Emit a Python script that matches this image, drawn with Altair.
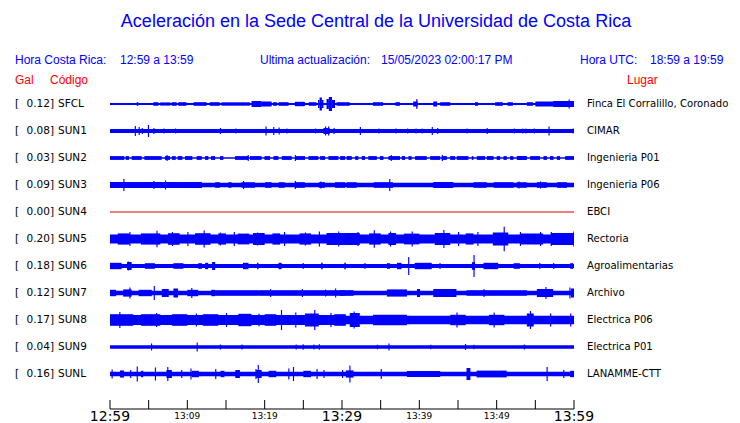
import altair as alt
import pandas as pd

# ---------------- data ----------------
codes = ["SFCL", "SUN1", "SUN2", "SUN3", "SUN4", "SUN5", "SUN6", "SUN7", "SUN8", "SUN9", "SUNL"]
gal = ["0.12", "0.08", "0.03", "0.09", "0.00", "0.20", "0.18", "0.12", "0.17", "0.04", "0.16"]
places = ["Finca El Corralillo, Coronado", "CIMAR", "Ingenieria P01", "Ingenieria P06", "EBCI",
          "Rectoria", "Agroalimentarias", "Archivo", "Electrica P06", "Electrica P01", "LANAMME-CTT"]

# background half-amplitude of each trace (arbitrary units)
base_amp = [1.0, 2.0, 0.8, 2.2, 0.5, 4.5, 2.0, 2.2, 4.2, 1.7, 2.2]

# bursts: (start minute, end minute, half amplitude) -- minutes after 12:59
bursts = {
    "SFCL": [(3.45, 3.66, 1.8), (5.6, 6.25, 1.8), (6.5, 7.8, 1.6), (7.98, 8.62, 1.8), (8.84, 9.9, 1.8),
             (10.8, 12.5, 1.8), (12.9, 14.2, 1.8), (14.4, 18.1, 1.7), (18.3, 19.6, 3), (19.6, 20.9, 2.6),
             (21.1, 21.6, 1.8), (21.8, 23.1, 1.8), (23.9, 25.2, 2.2), (25.7, 26.7, 1.8),
             (26.9, 27.1, 4), (27.1, 27.4, 6.5), (27.4, 27.6, 4), (28.0, 28.3, 5), (28.3, 28.7, 7),
             (28.7, 29.1, 4), (29.3, 30.4, 1.8), (30.4, 31.0, 1.8), (34.0, 35.3, 1.8), (36.9, 37.5, 1.8),
             (39.2, 39.8, 2.5), (41.8, 42.3, 2.5), (42.7, 44.0, 1.8), (47.2, 47.6, 1.8), (49.8, 50.8, 1.8),
             (51.4, 52.1, 1.8), (53.9, 54.7, 1.8), (55.0, 57.3, 2.5), (57.3, 60.0, 3.0)],
    "SUN1": [(27.6, 28.4, 3)],
    "SUN2": [(0, 1.85, 1.9), (2.03, 2.46, 1.9), (2.8, 4.1, 1.9), (4.44, 6.68, 1.9), (7.1, 7.76, 1.9),
             (8.0, 8.5, 1.9), (8.75, 9.36, 1.9), (9.7, 10.65, 1.9), (11.2, 11.86, 1.9), (12.29, 12.72, 1.9),
             (13.06, 13.58, 1.9), (14.23, 14.66, 1.9), (16.17, 17.9, 1.9), (18.1, 19.6, 1.9),
             (19.97, 20.7, 1.9), (21.13, 21.78, 1.9), (22.2, 23.5, 1.9), (23.93, 25.22, 1.9),
             (25.66, 26.95, 1.9), (27.17, 27.8, 1.9), (28.24, 29.54, 1.9), (29.75, 30.4, 1.9),
             (30.6, 31.26, 1.9), (31.7, 32.12, 1.9), (32.55, 32.98, 1.9), (33.4, 34.5, 1.9),
             (34.9, 35.36, 1.9), (36.0, 37.5, 1.9), (37.73, 38.16, 1.9), (38.6, 39.0, 1.9),
             (39.45, 40.96, 1.9), (41.4, 42.7, 1.9), (42.9, 43.55, 1.9), (43.98, 44.63, 1.9),
             (44.84, 46.35, 1.9), (46.78, 47.0, 1.9), (47.43, 48.5, 1.9), (48.72, 49.6, 1.9),
             (50.0, 50.45, 1.9), (50.88, 51.31, 1.9), (51.74, 52.17, 1.9), (52.6, 53.9, 1.9),
             (54.33, 55.6, 1.9), (56.05, 56.5, 1.9), (56.9, 57.35, 1.9), (57.78, 58.2, 1.9),
             (58.86, 60.0, 1.9)],
    "SUN3": [(0, 11.9, 2.9), (13.6, 14.2, 2.8), (15.3, 15.7, 2.8), (17.0, 18.75, 2.8), (20.05, 20.9, 2.8),
             (21.8, 22.6, 2.8), (23.9, 25.2, 2.8), (27.0, 27.8, 2.8), (29.1, 30.4, 2.8), (30.6, 31.9, 2.8),
             (34.1, 36.6, 2.8), (41.8, 44.4, 3.0), (47.0, 48.7, 2.8), (49.6, 52.2, 2.8), (52.6, 53.9, 2.8),
             (55.2, 56.5, 2.8), (57.8, 59.1, 2.8)],
    "SUN4": [],
    "SUN5": [(1.0, 2.5, 5.6), (4.0, 6.5, 5.6), (7.5, 9.0, 5.8), (11.0, 13.0, 5.8), (14.0, 15.0, 5.6),
             (16.5, 18.0, 5.4), (18.5, 20.0, 6), (21.0, 22.0, 5.6), (24.5, 26.0, 5.6), (28.0, 30.5, 6),
             (30.5, 32.3, 6), (33.5, 35.0, 5.6), (36.0, 37.0, 6), (38.0, 40.0, 5.4), (42.0, 44.0, 6),
             (46.0, 47.0, 5.6), (49.5, 51.5, 6.5), (53.0, 56.0, 5.6), (57.0, 60.0, 6)],
    "SUN6": [(0, 1.5, 3.2), (2.2, 2.8, 4), (4.5, 5.8, 2.8), (8.2, 9.5, 2.8), (11.4, 11.9, 2.8), (12.3, 12.7, 3.2),
             (13.2, 13.6, 4), (17.2, 17.9, 3.2), (19.0, 19.2, 3.2), (21.8, 22.2, 3.2), (27.3, 27.5, 3.2),
             (30.3, 30.5, 3.2), (35.8, 36.2, 2.8), (37.1, 37.7, 3.2), (39.4, 41.6, 3.2), (46.8, 47.2, 3.8),
             (48.3, 50.2, 3.2), (52.2, 53.0, 2.8), (59.5, 59.9, 2.8)],
    "SUN7": [(0, 0.8, 3.2), (1.7, 2.8, 3.6), (3.7, 5.4, 3.2), (6.7, 7.6, 4), (8.2, 8.8, 4.5), (10.0, 11.4, 3.2),
             (13.1, 13.6, 3.2), (13.6, 19.2, 2.8), (19.2, 30.4, 2.8), (29.75, 31.5, 2.8), (35.8, 38.4, 3.6),
             (39.7, 40.1, 4), (41.8, 44.8, 4), (46.1, 53.9, 2.8), (55.2, 57.3, 4), (59.6, 60.0, 4.5)],
    "SUN8": [(0, 30.0, 5.0), (0, 3.0, 5.8), (4.0, 6.5, 5.8), (8.0, 10.0, 5.8), (12.0, 14.0, 5.8), (16.6, 18.3, 6.2),
             (20.0, 21.5, 5.8), (25.2, 27.0, 6.5), (29.0, 30.5, 5.8), (31.0, 32.3, 7), (34.0, 38.4, 5.2),
             (44.0, 46.0, 5.2), (49.0, 51.0, 5.2), (53.9, 54.8, 6.5)],
    "SUN9": [],
    "SUNL": [(1.3, 1.8, 3.6), (4.0, 4.3, 3.2), (7.3, 8.0, 4), (10.6, 11.5, 3.2), (14.3, 14.8, 3.2),
             (16.2, 16.8, 4), (18.9, 19.6, 4), (20.5, 21.5, 3.2), (25.0, 26.0, 3.2), (30.5, 31.5, 3.6),
             (38.4, 42.7, 3.0), (46.1, 46.6, 6), (47.4, 51.3, 3.4), (59.5, 60.0, 3.2)],
}

# spikes: (minute, half amplitude)
spikes = {
    "SFCL": [(39.6, 5), (59.3, 4.5)],
    "SUN1": [(3.2, 5), (3.7, 4), (4.1, 3), (4.9, 6), (5.6, 3), (6.9, 2.5), (8.4, 2.5), (14.2, 3), (16.2, 2.5),
             (20.1, 4.5), (21.1, 4), (21.8, 3.5), (22.8, 2.5), (26.5, 2.5), (27.8, 4.5), (28.2, 4.5),
             (28.9, 3), (32.3, 4), (34.7, 2.5), (36.9, 2.5), (38.4, 2.5), (39.5, 2.5), (40.3, 2.5),
             (41.6, 4), (42.3, 3), (46.1, 2.5), (48.7, 3), (52.2, 2.5), (53.3, 2.5), (53.7, 2.5),
             (54.8, 2.5), (56.7, 4.5), (59.8, 2.5)],
    "SUN2": [(7.3, 3), (17.8, 3), (23.9, 3), (36.3, 3), (42.9, 3)],
    "SUN3": [(1.72, 6), (5.6, 4), (7.1, 4.5), (17.2, 4), (23.9, 4), (27.2, 3.5), (36.1, 6), (52.8, 3.5),
             (55.6, 3.5)],
    "SUN4": [],
    "SUN5": [(2.5, 7), (6.0, 8.3), (8.0, 7), (10.0, 7), (12.1, 8.5), (14.2, 6.5), (16.0, 7), (19.0, 6.5),
             (22.5, 7), (25.2, 6.5), (27.0, 7.5), (29.5, 7.5), (32.0, 7), (34.1, 8.7), (36.2, 7.5),
             (39.0, 7.5), (43.1, 9), (45.0, 7), (47.5, 7), (50.9, 12.3), (53.0, 7), (55.6, 7), (57.0, 7),
             (59.9, 7.5)],
    "SUN6": [(2.3, 4.5), (24.9, 3), (32.9, 3), (38.55, 9), (42.6, 3), (47.0, 11), (55.5, 3), (57.3, 3)],
    "SUN7": [(2.5, 5.5), (5.65, 7), (10.5, 5), (20.7, 4), (24.8, 4), (27.8, 3.5), (29.1, 4.5), (48.3, 4),
             (56.3, 6), (59.4, 5.5)],
    "SUN8": [(1.2, 8), (5.95, 7), (11.1, 6.5), (15.0, 7), (19.2, 6.5), (22.1, 10), (23.95, 7.5),
             (26.4, 10), (28.5, 7), (31.5, 8.5), (44.8, 7.5), (49.6, 7.5), (54.3, 9), (56.9, 6.5),
             (59.5, 6.5)],
    "SUN9": [(5.3, 3.5), (11.2, 4.5), (14.2, 2.5), (17.0, 2.5), (24.0, 2.5), (24.9, 2.8), (26.3, 2.5),
             (27.0, 2.8), (34.5, 2.2), (36.0, 3.5), (41.4, 2.2), (45.9, 3), (47.0, 2.2), (53.5, 2.5)],
    "SUNL": [(0.2, 4.5), (2.6, 4), (3.45, 7.5), (5.8, 6.5), (7.4, 7), (9.2, 4), (10.4, 5.5), (13.6, 5),
             (18.8, 5), (19.1, 9), (23.05, 5.5), (23.65, 7), (26.7, 5), (27.6, 4), (30.0, 4), (30.95, 8.5),
             (35.0, 5), (56.45, 7), (58.6, 4)],
}

tick_minutes = list(range(0, 61, 5))
major_labels = [(0, "12:59"), (30, "13:29"), (60, "13:59")]
minor_labels = [(10, "13:09"), (20, "13:19"), (40, "13:39"), (50, "13:49")]

# ---------------- build tables ----------------
ROW_UNITS = 27.0  # amplitude units per row spacing
SPIKE_W = 0.15

rows = []
for i, c in enumerate(codes):
    col = "#dd0000" if c == "SUN4" else "#0000ff"
    segs = [(0.0, 60.0, base_amp[i])] + list(bursts[c]) + [(t, t + SPIKE_W, a) for t, a in spikes[c]]
    for t0, t1, a in segs:
        rows.append({"code": c, "t0": t0, "t1": min(t1, 60.0),
                     "y0": i - a / ROW_UNITS, "y1": i + a / ROW_UNITS, "col": col})
traces = pd.DataFrame(rows)

labels = pd.DataFrame({"row": list(range(len(codes))), "code": codes,
                       "gal": [g + "]" for g in gal], "place": places, "br": ["["] * len(codes)})

xs = alt.Scale(domain=[0, 60], range=[102, 566])
ys = alt.Scale(domain=[0, 10], range=[96, 366])

trace_layer = alt.Chart(traces).mark_rect().encode(
    x=alt.X("t0:Q", scale=xs, axis=None), x2="t1:Q",
    y=alt.Y("y0:Q", scale=ys, axis=None), y2="y1:Q",
    color=alt.Color("col:N", scale=None),
)

axis_line = alt.Chart(pd.DataFrame({"a": [0], "b": [60]})).mark_rule(color="black", strokeWidth=1).encode(
    x=alt.X("a:Q", scale=xs), x2="b:Q", y=alt.value(401))
ticks = alt.Chart(pd.DataFrame({"t": tick_minutes})).mark_rule(color="black", strokeWidth=1).encode(
    x=alt.X("t:Q", scale=xs), y=alt.value(392), y2=alt.value(401))
maj = alt.Chart(pd.DataFrame(major_labels, columns=["t", "lab"])).mark_text(
    font="DejaVu Sans", fontSize=14, color="black", baseline="middle", align="center").encode(
    x=alt.X("t:Q", scale=xs), y=alt.value(409), text="lab:N")
mnr = alt.Chart(pd.DataFrame(minor_labels, columns=["t", "lab"])).mark_text(
    font="DejaVu Sans", fontSize=9, color="black", baseline="middle", align="center").encode(
    x=alt.X("t:Q", scale=xs), y=alt.value(408), text="lab:N")

def row_text(field, xpos, align, size=10.5):
    return alt.Chart(labels).mark_text(font="DejaVu Sans", fontSize=size, color="black",
                                       baseline="middle", align=align).encode(
        x=alt.value(xpos), y=alt.Y("row:Q", scale=ys), text=f"{field}:N")

br_layer = row_text("br", 7, "left")
gal_layer = row_text("gal", 46, "right")
code_layer = row_text("code", 50, "left")
place_layer = row_text("place", 579, "left", 10.1)

def fixed_text(txt, x, y, size, color, align="left", font="Liberation Sans"):
    return alt.Chart(pd.DataFrame({"t": [txt]})).mark_text(
        font=font, fontSize=size, color=color, align=align, baseline="middle").encode(
        x=alt.value(x), y=alt.value(y), text="t:N")

blue = "#0000ff"
red = "#ff0000"
headers = [
    fixed_text("Aceleración en la Sede Central de la Universidad de Costa Rica", 368, 14, 18, blue, "center"),
    fixed_text("Hora Costa Rica:", 7, 52, 12, blue),
    fixed_text("12:59 a 13:59", 112, 52, 12, blue),
    fixed_text("Ultima actualización:", 252, 52, 12, blue),
    fixed_text("15/05/2023 02:00:17 PM", 373, 52, 12, blue),
    fixed_text("Hora UTC:", 572, 52, 12, blue),
    fixed_text("18:59 a 19:59", 642, 52, 12, blue),
    fixed_text("Gal", 7, 72, 12, red),
    fixed_text("Código", 42, 72, 12, red),
    fixed_text("Lugar", 619, 72, 12, red),
]

chart = alt.layer(trace_layer, axis_line, ticks, maj, mnr, br_layer, gal_layer, code_layer, place_layer,
                  *headers).properties(
    width=724, height=415, autosize=alt.AutoSizeParams(type="none"), padding=0, background="white"
).configure_view(stroke=None)

chart.save("out.html", embed_options={"renderer": "svg", "actions": False})
